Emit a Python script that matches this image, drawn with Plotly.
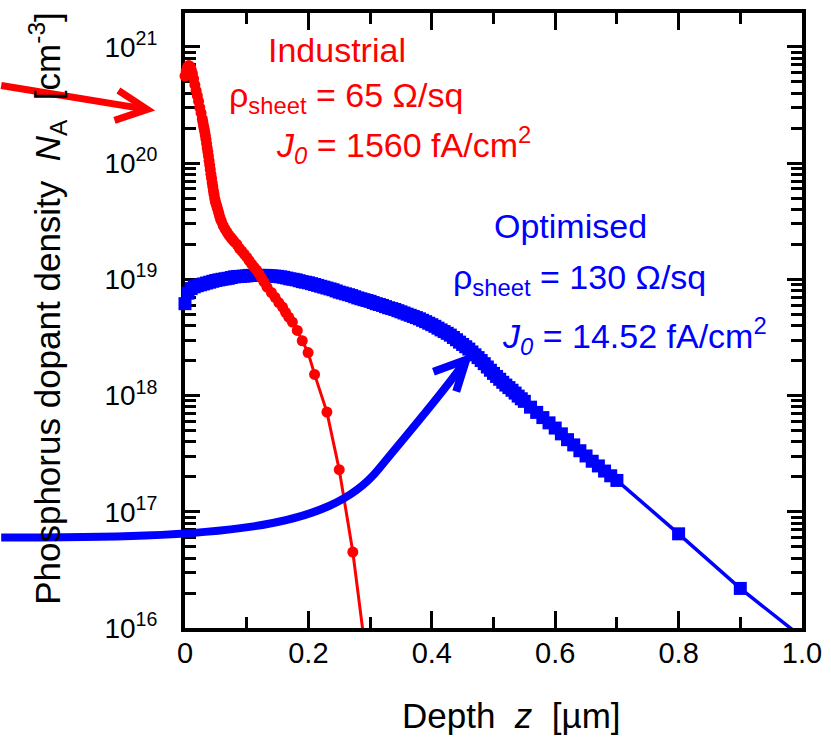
import plotly.graph_objects as go

# Phosphorus emitter profiles: depth [µm] and dopant density [cm^-3]
ind_depth = [0.000, 0.002, 0.004, 0.006, 0.008, 0.010, 0.012, 0.014, 0.016, 0.018,
             0.020, 0.022, 0.024, 0.026, 0.028, 0.029, 0.030, 0.031, 0.032, 0.033,
             0.034, 0.035, 0.036, 0.037, 0.038, 0.039, 0.040, 0.041, 0.042, 0.043,
             0.044, 0.045, 0.046, 0.047, 0.048, 0.049, 0.050, 0.0515, 0.053, 0.0545,
             0.056, 0.0575, 0.059, 0.062, 0.065, 0.068, 0.071, 0.074, 0.077, 0.080,
             0.084, 0.088, 0.092, 0.096, 0.100, 0.104, 0.108, 0.112, 0.116, 0.120,
             0.124, 0.128, 0.133, 0.140, 0.146, 0.152, 0.158, 0.163, 0.168, 0.174,
             0.182, 0.190, 0.1995, 0.210, 0.230, 0.250, 0.272, 0.290]
ind_conc = [5.6e20, 6.2e20, 6.7e20, 6.9e20, 6.8e20, 6.4e20, 5.9e20, 5.3e20, 4.7e20, 4.2e20,
            3.8e20, 3.4e20, 3.0e20, 2.7e20, 2.4e20, 2.25e20, 2.1e20, 1.98e20, 1.85e20, 1.73e20,
            1.6e20, 1.47e20, 1.35e20, 1.25e20, 1.15e20, 1.05e20, 9.6e19, 8.8e19, 8.0e19, 7.4e19,
            6.8e19, 6.3e19, 5.8e19, 5.4e19, 5.0e19, 4.75e19, 4.5e19, 4.25e19, 4.0e19, 3.75e19,
            3.5e19, 3.3e19, 3.15e19, 2.9e19, 2.7e19, 2.55e19, 2.4e19, 2.3e19, 2.2e19, 2.1e19,
            2.0e19, 1.85e19, 1.75e19, 1.65e19, 1.55e19, 1.45e19, 1.35e19, 1.27e19, 1.2e19, 1.12e19,
            1.03e19, 9.5e18, 8.55e18, 7.7e18, 7.0e18, 6.3e18, 5.77e18, 5.2e18, 4.73e18, 4.29e18,
            3.63e18, 2.96e18, 2.34e18, 1.52e18, 7.2e17, 2.3e17, 4.5e16, 8.0e15]

opt_depth = [0.000, 0.005, 0.010, 0.015, 0.020, 0.025, 0.030, 0.035, 0.040, 0.045,
             0.050, 0.055, 0.060, 0.065, 0.070, 0.075, 0.080, 0.085, 0.090, 0.095,
             0.100, 0.105, 0.110, 0.115, 0.120, 0.125, 0.130, 0.135, 0.140, 0.145,
             0.150, 0.155, 0.160, 0.165, 0.170, 0.175, 0.180, 0.185, 0.190, 0.195,
             0.200, 0.205, 0.210, 0.215, 0.220, 0.225, 0.230, 0.235, 0.240, 0.245,
             0.250, 0.255, 0.260, 0.265, 0.270, 0.275, 0.280, 0.285, 0.290, 0.295,
             0.300, 0.305, 0.310, 0.315, 0.320, 0.325, 0.330, 0.335, 0.340, 0.345,
             0.350, 0.355, 0.360, 0.365, 0.370, 0.375, 0.380, 0.385, 0.390, 0.395,
             0.400, 0.405, 0.410, 0.415, 0.420, 0.425, 0.430, 0.435, 0.440, 0.445,
             0.450, 0.455, 0.460, 0.465, 0.470, 0.475, 0.480, 0.485, 0.490, 0.495,
             0.500, 0.505, 0.510, 0.515, 0.520, 0.525, 0.530, 0.535, 0.540, 0.545,
             0.550, 0.560, 0.570, 0.580, 0.590, 0.600, 0.610, 0.620, 0.630, 0.640,
             0.650, 0.660, 0.670, 0.680, 0.690, 0.700, 0.800, 0.900, 1.000]
opt_conc = [6.17e18, 7.59e18, 8.32e18, 8.61e18, 8.81e18, 8.97e18, 9.12e18, 9.29e18, 9.44e18, 9.61e18,
            9.77e18, 9.89e18, 1.00e19, 1.01e19, 1.02e19, 1.035e19, 1.05e19, 1.055e19, 1.06e19, 1.065e19,
            1.07e19, 1.08e19, 1.08e19, 1.08e19, 1.08e19, 1.08e19, 1.08e19, 1.075e19, 1.07e19, 1.065e19,
            1.06e19, 1.05e19, 1.04e19, 1.025e19, 1.01e19, 1.00e19, 9.89e18, 9.72e18, 9.55e18, 9.44e18,
            9.33e18, 9.17e18, 9.02e18, 8.86e18, 8.71e18, 8.56e18, 8.41e18, 8.27e18, 8.13e18, 7.94e18,
            7.76e18, 7.63e18, 7.50e18, 7.37e18, 7.24e18, 7.08e18, 6.92e18, 6.80e18, 6.68e18, 6.57e18,
            6.46e18, 6.31e18, 6.17e18, 6.07e18, 5.96e18, 5.82e18, 5.69e18, 5.60e18, 5.50e18, 5.37e18,
            5.25e18, 5.13e18, 5.01e18, 4.90e18, 4.79e18, 4.68e18, 4.57e18, 4.44e18, 4.32e18, 4.19e18,
            4.07e18, 3.94e18, 3.80e18, 3.67e18, 3.55e18, 3.43e18, 3.31e18, 3.16e18, 3.02e18, 2.88e18,
            2.75e18, 2.63e18, 2.51e18, 2.37e18, 2.24e18, 2.12e18, 2.00e18, 1.88e18, 1.76e18, 1.65e18,
            1.55e18, 1.46e18, 1.38e18, 1.30e18, 1.23e18, 1.17e18, 1.11e18, 1.05e18, 9.89e17, 9.38e17,
            8.91e17, 7.94e17, 7.16e17, 6.46e17, 5.82e17, 5.25e17, 4.68e17, 4.17e17, 3.76e17, 3.35e17,
            3.02e17, 2.72e17, 2.48e17, 2.24e17, 2.04e17, 1.86e17, 6.46e16, 2.19e16, 8.32e15]

x_tick_vals = [0, 0.2, 0.4, 0.6, 0.8, 1.0]
x_tick_text = ["0", "0.2", "0.4", "0.6", "0.8", "1.0"]
x_minor_vals = [0.1, 0.3, 0.5, 0.7, 0.9]
y_decades = [16, 17, 18, 19, 20, 21]
Y_MIN_LOG, Y_MAX_LOG = 16, 21.291

FONT = "Liberation Sans, Arial, sans-serif"
RED = "#ff0000"
BLUE = "#0000ff"
NB = "\u00a0"

y_tick_vals = [10.0 ** d for d in y_decades]
y_tick_text = ["10<sup>%d</sup>" % d for d in y_decades]
y_minor_vals = [k * 10.0 ** d for d in y_decades[:-1] for k in range(2, 10)]


def profile_traces(depth, conc, color, width, symbol, size):
    """Connecting line (clipped to the axes) plus unclipped markers for points inside the y range."""
    inside = [(d, c) for d, c in zip(depth, conc) if c >= 10.0 ** Y_MIN_LOG]
    line = go.Scatter(x=depth, y=conc, mode="lines", line=dict(color=color, width=width),
                      hoverinfo="skip")
    marks = go.Scatter(x=[p[0] for p in inside], y=[p[1] for p in inside], mode="markers",
                       cliponaxis=False,
                       marker=dict(symbol=symbol, size=size, color=color, line=dict(width=0)))
    return [line, marks]


fig = go.Figure()
fig.add_traces(profile_traces(opt_depth, opt_conc, BLUE, 3.5, "square", 13))
fig.add_traces(profile_traces(ind_depth, ind_conc, RED, 3, "circle", 11))

axis_common = dict(
    ticks="inside", tickwidth=3, tickcolor="black",
    showline=True, linewidth=4, linecolor="black", mirror="allticks",
    showgrid=False, zeroline=False, layer="below traces",
)
fig.update_xaxes(
    range=[0, 1.0], tickmode="array", tickvals=x_tick_vals, ticktext=x_tick_text,
    ticklen=17, ticklabelstandoff=-4,
    tickfont=dict(family=FONT, size=29, color="black"),
    minor=dict(tickmode="array", tickvals=x_minor_vals, ticks="inside",
               ticklen=11, tickwidth=3, tickcolor="black"),
    **axis_common,
)
fig.update_yaxes(
    type="log", range=[Y_MIN_LOG, Y_MAX_LOG], tickmode="array",
    tickvals=y_tick_vals, ticktext=y_tick_text, ticklen=15, ticklabelstandoff=18,
    tickfont=dict(family=FONT, size=28, color="black"),
    minor=dict(tickmode="array", tickvals=y_minor_vals, ticks="inside",
               ticklen=11, tickwidth=3, tickcolor="black"),
    **axis_common,
)


def note(text, x, y, color, xanchor="left", size=34, angle=0):
    return dict(text=text, x=x, y=y, xref="paper", yref="paper",
                xanchor=xanchor, yanchor="middle", showarrow=False,
                textangle=angle, font=dict(family=FONT, size=size, color=color))


fig.update_layout(
    width=831, height=739,
    margin=dict(l=185, r=25, t=9, b=111),
    paper_bgcolor="white", plot_bgcolor="white",
    showlegend=False,
    annotations=[
        note("Industrial", 0.2456, 0.940, RED, xanchor="center"),
        note("ρ<sub>sheet</sub> = 65 Ω/sq", 0.0676, 0.862, RED),
        note("<i>J</i><sub><i>0</i></sub> = 1560 fA/cm<sup>2</sup>", 0.1449, 0.785, RED),
        note("Optimised", 0.6256, 0.654, BLUE, xanchor="center"),
        note("ρ<sub>sheet</sub> = 130 Ω/sq", 0.4316, 0.566, BLUE),
        note("<i>J</i><sub><i>0</i></sub> = 14.52 fA/cm<sup>2</sup>", 0.5105, 0.475, BLUE),
        note("Depth" + NB * 2 + "<i>z</i>" + NB * 2 + "[µm]", 0.529, -0.142, "black",
             xanchor="center", size=35),
        note("Phosphorus dopant density" + NB * 2 + "<i>N</i><sub>A</sub>" + NB * 2
             + "[cm<sup>-3</sup>]", -0.222, 0.519, "black", xanchor="center",
             size=35, angle=-90),
    ],
    shapes=[
        # straight red pointer toward the surface concentration
        dict(type="path", xref="paper", yref="paper",
             path="M -0.2979,0.8821 L -0.0612,0.8433",
             line=dict(color=RED, width=7)),
        dict(type="path", xref="paper", yref="paper",
             path="M -0.1079,0.8740 L -0.0612,0.8433 L -0.1143,0.8255",
             line=dict(color=RED, width=7)),
        # curved blue pointer toward the optimised profile
        dict(type="path", xref="paper", yref="paper",
             path=("M -0.2979,0.1470 C 0.0564,0.1470 0.2335,0.1583 0.3140,0.2585 "
                   "C 0.3543,0.3086 0.4203,0.3845 0.4557,0.4362"),
             line=dict(color=BLUE, width=8)),
        dict(type="path", xref="paper", yref="paper",
             path="M 0.4026,0.4168 L 0.4557,0.4362 L 0.4396,0.3845",
             line=dict(color=BLUE, width=8)),
    ],
)

fig.write_html("out.html")
